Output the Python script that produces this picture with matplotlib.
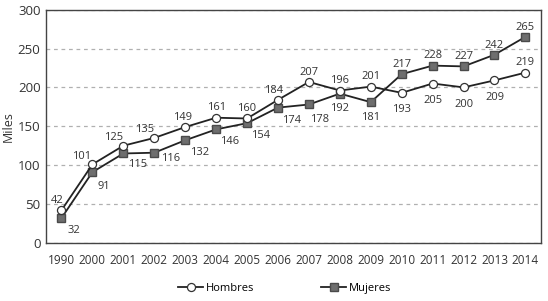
import matplotlib.pyplot as plt

plt.rcParams['font.family'] = ['Open Sans', 'DejaVu Sans']

years = ['1990', '2000', '2001', '2002', '2003', '2004', '2005', '2006',
         '2007', '2008', '2009', '2010', '2011', '2012', '2013', '2014']
hombres = [42, 101, 125, 135, 149, 161, 160, 184, 207, 196, 201, 193, 205, 200, 209, 219]
mujeres = [32, 91, 115, 116, 132, 146, 154, 174, 178, 192, 181, 217, 228, 227, 242, 265]

# label offsets in points (dx, dy)
h_off = [(-3, 7), (-8, 6), (-7, 6), (-7, 6), (-2, 7), (0, 7), (0, 7), (-3, 7),
         (0, 7), (0, 7), (0, 7), (0, -12), (0, -12), (0, -12), (0, -12), (0, 7)]
m_off = [(9, -9), (8, -10), (10, -8), (12, -4), (10, -9), (10, -9), (10, -9), (10, -9),
         (8, -11), (0, -11), (0, -11), (0, 7), (0, 7), (0, 7), (0, 7), (0, 7)]

x = list(range(len(years)))
fig = plt.figure(figsize=(5.48, 3.01), dpi=100)
ax = fig.add_axes([0.084, 0.193, 0.903, 0.775])

lc = '#222222'
ax.plot(x, mujeres, color=lc, lw=1.3, marker='s', ms=5.5, mfc='#6e6e6e', mec='#4a4a4a',
        label='Mujeres', zorder=3)
ax.plot(x, hombres, color=lc, lw=1.3, marker='o', ms=5.8, mfc='white', mec='#333333',
        mew=0.9, label='Hombres', zorder=4)

for i in x:
    ax.annotate(str(hombres[i]), (i, hombres[i]), xytext=h_off[i], textcoords='offset points',
                ha='center', va='center', fontsize=8, color='#333333')
    ax.annotate(str(mujeres[i]), (i, mujeres[i]), xytext=m_off[i], textcoords='offset points',
                ha='center', va='center', fontsize=8, color='#333333')

ax.set_xlim(-0.5, 15.5)
ax.set_ylim(0, 300)
ax.set_yticks(range(0, 301, 50))
ax.set_xticks(x)
ax.set_xticklabels(years)
ax.tick_params(axis='x', length=0, pad=8, labelsize=8.5, colors='#333333')
ax.tick_params(axis='y', length=0, pad=4, labelsize=9.5, colors='#333333')
for s in ax.spines.values():
    s.set_color('#444444')
    s.set_linewidth(1)
ax.yaxis.grid(True, linestyle=(0, (3, 3)), color='#b0b0b0', lw=0.9)
ax.set_axisbelow(True)
ax.set_ylabel('Miles', fontsize=9, color='#333333', labelpad=2)

h, l = ax.get_legend_handles_labels()
fig.legend([h[1], h[0]], [l[1], l[0]], loc='lower center', ncol=2, frameon=False,
           fontsize=8, bbox_to_anchor=(0.52, -0.01), columnspacing=6, handlelength=2.2,
           handletextpad=0.3)

fig.savefig('out.png', dpi=100)
